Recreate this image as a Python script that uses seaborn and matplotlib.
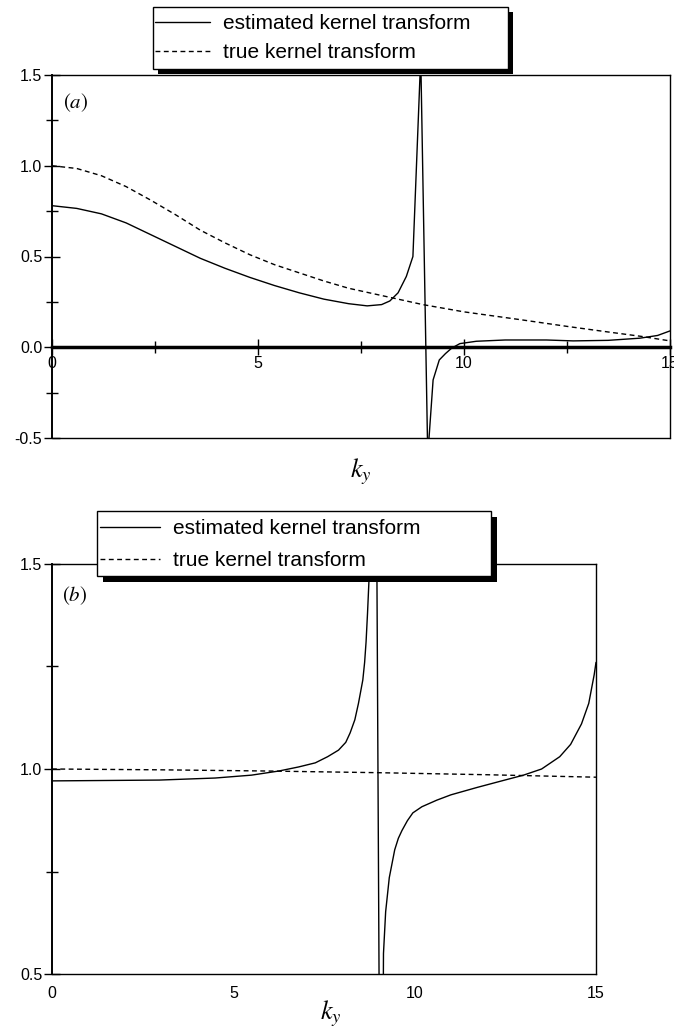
import matplotlib
matplotlib.use("Agg")
import matplotlib.pyplot as plt
import seaborn as sns
import pandas as pd
from matplotlib.patches import Rectangle
from matplotlib.ticker import MultipleLocator, FormatStrFormatter

# ---------------- data ----------------
legend_labels = ["estimated kernel transform", "true kernel transform"]

# panel (a)
a_est_k = [0.0, 0.6, 1.2, 1.8, 2.4, 3.0, 3.6, 4.2, 4.8, 5.4, 6.0, 6.6, 7.2, 7.65,
           8.0, 8.2, 8.4, 8.6, 8.76,
           8.95, 9.12, 9.25, 9.4, 9.55, 9.7, 9.9, 10.3, 11.0, 12.0, 12.65, 13.5, 14.27,
           14.7, 15.0]
a_est_v = [0.78, 0.765, 0.735, 0.685, 0.62, 0.555, 0.49, 0.435, 0.385, 0.34, 0.30, 0.265, 0.24, 0.228,
           0.235, 0.255, 0.30, 0.39, 0.50,
           1.6, -0.6, -0.18, -0.07, -0.035, -0.005, 0.02, 0.033, 0.04, 0.04, 0.035, 0.038, 0.05,
           0.065, 0.09]
a_true_k = [0.0, 0.6, 1.2, 1.8, 2.4, 3.0, 3.6, 4.2, 4.8, 5.4, 6.0, 6.6, 7.2, 7.8, 8.4,
            9.0, 10.0, 11.43, 12.5, 13.47, 14.3, 15.0]
a_true_v = [1.0, 0.985, 0.945, 0.885, 0.81, 0.73, 0.645, 0.575, 0.51, 0.455, 0.41, 0.365, 0.325,
            0.295, 0.265, 0.235, 0.195, 0.15, 0.115, 0.085, 0.06, 0.035]

# panel (b)
b_est_k = [0.0, 1.5, 2.96, 4.5, 5.5, 6.25, 6.8, 7.26, 7.6, 7.9, 8.1, 8.22, 8.35, 8.45,
           8.57, 8.62, 8.66, 8.70, 8.74,
           8.85, 9.08, 9.14, 9.2, 9.3, 9.45, 9.55, 9.65, 9.8, 9.95, 10.2, 10.61, 11.0,
           11.72, 12.4, 13.0, 13.5, 14.0, 14.3, 14.6, 14.8, 14.95, 15.0]
b_est_v = [0.971, 0.972, 0.973, 0.978, 0.985, 0.995, 1.005, 1.015, 1.03, 1.046, 1.065, 1.088, 1.12, 1.16,
           1.217, 1.26, 1.31, 1.38, 1.46,
           3.3, -0.54, 0.55, 0.652, 0.735, 0.803, 0.831, 0.85, 0.874, 0.893, 0.908, 0.924, 0.937,
           0.955, 0.971, 0.985, 1.0, 1.03, 1.06, 1.11, 1.16, 1.23, 1.26]
b_true_k = [0.0, 3.0, 6.0, 9.0, 12.0, 15.0]
b_true_v = [1.0, 0.998, 0.995, 0.991, 0.986, 0.98]

x_major_ticks = [0, 5, 10, 15]

# ---------------- style ----------------
sns.set_theme(style="ticks", rc={"axes.edgecolor": "black", "xtick.color": "black",
                                 "ytick.color": "black", "text.color": "black",
                                 "axes.labelcolor": "black"})
plt.rcParams["font.family"] = ["Liberation Sans", "DejaVu Sans"]
plt.rcParams["mathtext.fontset"] = "stix"
plt.rcParams["axes.unicode_minus"] = False

W, H = 674, 1034
fig = plt.figure(figsize=(W / 100, H / 100), dpi=100)


def fx(px):
    return px / W


def fy(py):
    return 1 - py / H


ax1 = fig.add_axes([fx(52), fy(438), (670 - 52) / W, (438 - 75) / H])
ax2 = fig.add_axes([fx(52), fy(974), (596 - 52) / W, (974 - 564) / H])

dash = (0, (3.5, 2.5))
for ax, ek, ev, tk, tv in [(ax1, a_est_k, a_est_v, a_true_k, a_true_v),
                           (ax2, b_est_k, b_est_v, b_true_k, b_true_v)]:
    sns.lineplot(data=pd.DataFrame({"k": ek, "v": ev}), x="k", y="v", ax=ax,
                 color="black", lw=1.0, sort=False, estimator=None, legend=False)
    sns.lineplot(data=pd.DataFrame({"k": tk, "v": tv}), x="k", y="v", ax=ax,
                 color="black", lw=1.0, sort=False, estimator=None, legend=False,
                 linestyle=dash)
    ax.set_xlim(0, 15)
    ax.set_xlabel("")
    ax.set_ylabel("")
    for s in ax.spines.values():
        s.set_linewidth(1.0)
        s.set_visible(True)
    ax.spines["left"].set_linewidth(1.4)
    ax.xaxis.set_major_locator(plt.FixedLocator(x_major_ticks))
    ax.xaxis.set_major_formatter(FormatStrFormatter("%d"))
    ax.yaxis.set_major_locator(MultipleLocator(0.5))
    ax.yaxis.set_minor_locator(MultipleLocator(0.25))
    ax.yaxis.set_major_formatter(FormatStrFormatter("%.1f"))
    ax.tick_params(axis="y", which="major", direction="inout", length=12, width=1.0,
                   labelsize=11.5, pad=1)
    ax.tick_params(axis="y", which="minor", direction="inout", length=8, width=1.0)

handles1 = list(ax1.lines[:2])
handles2 = list(ax2.lines[:2])

# panel (a) specifics
ax1.set_ylim(-0.5, 1.5)
ax1.spines["bottom"].set_position(("data", 0))
ax1.spines["bottom"].set_linewidth(2.5)
ax1.axhline(-0.5, color="black", lw=1.0, clip_on=False)
ax1.xaxis.set_minor_locator(MultipleLocator(2.5))
ax1.tick_params(axis="x", which="major", direction="inout", length=12, width=1.0,
                labelsize=11.5, pad=0)
ax1.tick_params(axis="x", which="minor", direction="inout", length=9, width=1.0)
ax1.text(0.018, 0.923, r"$(a)$", transform=ax1.transAxes, fontsize=15, va="center")

# panel (b) specifics
ax2.set_ylim(0.5, 1.5)
ax2.tick_params(axis="x", which="both", length=0, labelsize=11.5, pad=9)
ax2.text(0.018, 0.924, r"$(b)$", transform=ax2.transAxes, fontsize=15, va="center")

# x labels
fig.text(fx(361), fy(472), r"$k_y$", fontsize=19, ha="center", va="center")
fig.text(fx(331), fy(1014), r"$k_y$", fontsize=19, ha="center", va="center")

# legend boxes with solid black drop shadows
for (x0, y0, x1, y1, off) in [(153, 7, 508, 69, 5), (97, 511, 491, 576, 6)]:
    fig.add_artist(Rectangle((fx(x0 + off), fy(y1 + off)), (x1 - x0) / W, (y1 - y0) / H,
                             transform=fig.transFigure, facecolor="black",
                             edgecolor="black", lw=0, zorder=3))
    fig.add_artist(Rectangle((fx(x0), fy(y1)), (x1 - x0) / W, (y1 - y0) / H,
                             transform=fig.transFigure, facecolor="white",
                             edgecolor="black", lw=1.0, zorder=4))

fs = 15
px_per_em = fs * 100 / 72
leg1 = fig.legend(handles1, legend_labels, loc="upper left",
                  bbox_to_anchor=(fx(155), fy(14)), bbox_transform=fig.transFigure,
                  frameon=False, borderpad=0, borderaxespad=0, fontsize=fs,
                  handlelength=55 / px_per_em, handletextpad=13 / px_per_em,
                  labelspacing=0.48)
leg1.set_zorder(6)
leg2 = fig.legend(handles2, legend_labels, loc="upper left",
                  bbox_to_anchor=(fx(100), fy(519)), bbox_transform=fig.transFigure,
                  frameon=False, borderpad=0, borderaxespad=0, fontsize=fs,
                  handlelength=60 / px_per_em, handletextpad=13 / px_per_em,
                  labelspacing=0.62)
leg2.set_zorder(6)

fig.savefig("out.png", dpi=100)
